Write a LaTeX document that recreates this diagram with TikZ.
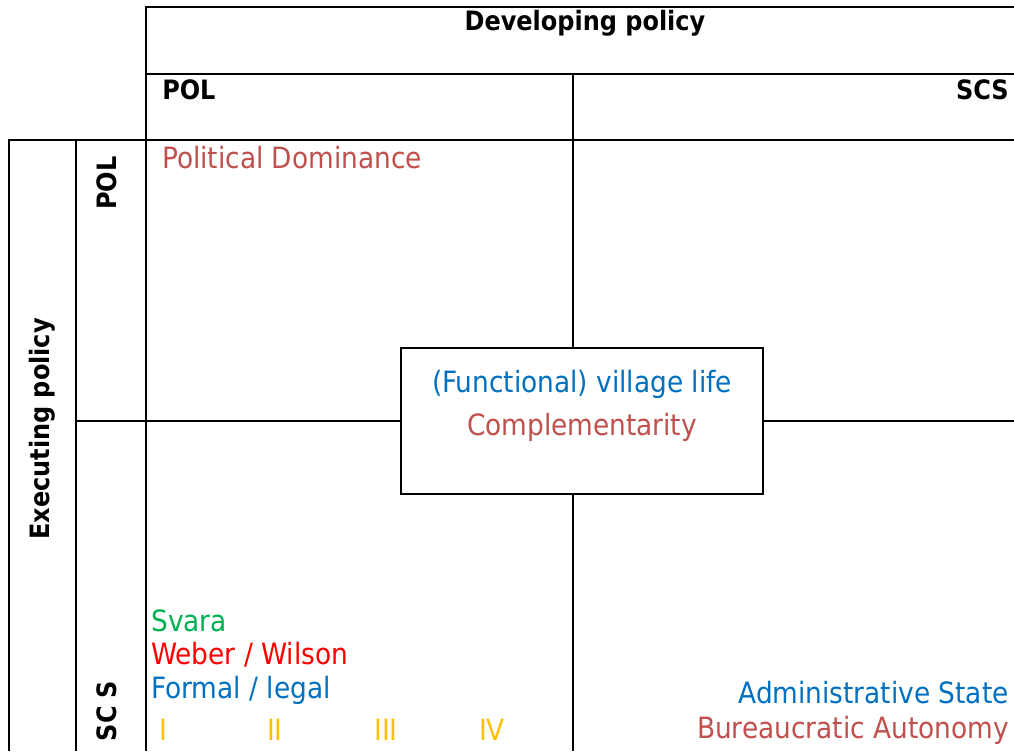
\documentclass[tikz,border=0pt]{standalone}
\usepackage{fontspec}
\setmainfont{DejaVu Sans Condensed}
\usepackage{tikz}
\usetikzlibrary{positioning}
\definecolor{brick}{HTML}{C0504D}
\definecolor{office}{HTML}{0070C0}
\definecolor{leaf}{HTML}{00B050}
\definecolor{signal}{HTML}{FF0000}
\definecolor{amber}{HTML}{FFC000}

\begin{document}
\begin{tikzpicture}[x=0.75pt,y=-0.75pt,line width=1.9pt,
    every node/.style={inner sep=0pt,font=\fontsize{22}{26}\selectfont},
    head/.style={font=\fontsize{20}{24}\selectfont\bfseries},
    cell/.style={anchor=west}]
        \useasboundingbox (0,0) rectangle (1014,751);

        % grid
        \draw (146,751) -- (146,7) -- (1014,7);
        \draw (146,74) -- (1014,74);
        \draw (573,74) -- (573,751);
        \draw (9,751) -- (9,140) -- (1014,140);
        \draw (76,140) -- (76,751);
        \draw (76,421) -- (1014,421);

        \node[draw,fill=white,minimum width=362*0.75pt,minimum height=146*0.75pt] (centre) at (582,421) {};
        \node[text=office] (village) at (582,384) {(Functional) village life};
        \node[text=brick,below=9pt of village] (compl) {Complementarity};

        % headings
        \node[head] (develop) at (585,23) {Developing policy};
        \node[head,cell] (colpol) at (161,90) {POL};
        \node[head,anchor=east] (colscs) at (1010,90) {SCS};
        \node[head,rotate=90] (execute) at (42,429) {Executing policy};
        \node[head,rotate=90] (rowpol) at (107,183) {POL};
        \node[head,rotate=90] (rowscs) at (107,711) {SC S};

        % cells
        \node[cell,text=brick] (dominance) at (161,158) {Political Dominance};
        \node[cell,text=leaf] (svara) at (150,621) {Svara};
        \node[cell,text=signal] (weber) at (150,655) {Weber / Wilson};
        \node[cell,text=office] (formal) at (150,690) {Formal / legal};
        \foreach \num/\xx in {I/163,II/275,III/386,IV/492}
            \node[text=amber] (stage\num) at (\xx,730) {\num};
        \node[anchor=east,text=office] (adminstate) at (1010,693) {Administrative State};
        \node[anchor=east,text=brick] (autonomy) at (1010,730) {Bureaucratic Autonomy};
    \end{tikzpicture}
\end{document}
